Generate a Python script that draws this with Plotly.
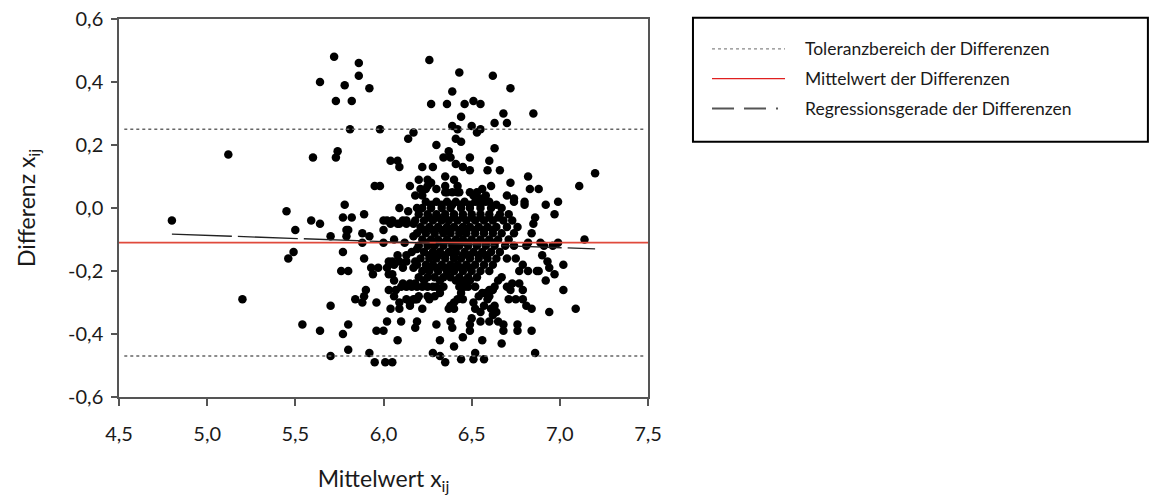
import plotly.graph_objects as go

# Bland-Altman style data: mean of paired measurements vs. their difference
points = [
    # sparse upper area
    (5.12, 0.17), (5.60, 0.16), (5.64, 0.40), (5.72, 0.48), (5.73, 0.34), (5.74, 0.18),
    (5.73, 0.16), (5.78, 0.39), (5.78, 0.01), (5.82, 0.34), (5.81, 0.25), (5.86, 0.46),
    (5.86, 0.42), (5.92, 0.38), (5.98, 0.25), (5.95, 0.07), (5.98, 0.07), (6.04, 0.15),
    (6.08, 0.15), (6.09, 0.13), (6.14, 0.22), (6.17, 0.24), (6.20, 0.09), (6.15, 0.07),
    (6.18, 0.04), (6.26, 0.47), (6.43, 0.43), (6.62, 0.42), (6.72, 0.38), (6.39, 0.37),
    (6.27, 0.33), (6.36, 0.33), (6.46, 0.33), (6.51, 0.34), (6.55, 0.33), (6.44, 0.29),
    (6.68, 0.30), (6.85, 0.30), (6.63, 0.27), (6.70, 0.27), (6.39, 0.26), (6.42, 0.25),
    (6.50, 0.26), (6.53, 0.24), (6.55, 0.25), (6.41, 0.22), (6.44, 0.21), (6.30, 0.20),
    (6.63, 0.19), (6.37, 0.18), (6.34, 0.16), (6.38, 0.16), (6.49, 0.16), (6.60, 0.15),
    (6.41, 0.14), (6.22, 0.13), (6.28, 0.13), (6.45, 0.13), (6.59, 0.12), (6.49, 0.12),
    (6.66, 0.12), (6.35, 0.10), (6.40, 0.09), (6.25, 0.09), (6.82, 0.10), (6.72, 0.08),
    (6.25, 0.07), (6.35, 0.07), (6.42, 0.07), (7.11, 0.07), (6.83, 0.06), (6.88, 0.06),
    (6.22, 0.04), (6.49, 0.05), (6.56, 0.06), (6.61, 0.07), (6.35, 0.05), (6.39, 0.05),
    (6.43, 0.05), (6.70, 0.04), (6.74, 0.02), (6.80, 0.02), (6.80, 0.01), (6.92, 0.01),
    (6.99, 0.02), (7.20, 0.11), (6.21, 0.06), (6.36, 0.05), (6.42, 0.05), (6.64, 0.01),
    (6.51, 0.04), (6.53, 0.05), (6.55, 0.03), (6.58, 0.04), (6.60, 0.02), (6.27, 0.08),
    (6.30, 0.06), (6.24, 0.06), (6.74, 0.03), (6.09, 0.00), (6.14, -0.01), (6.19, 0.00),
    # sparse left / lower-left area
    (4.80, -0.04), (5.20, -0.29), (5.45, -0.01), (5.50, -0.07), (5.59, -0.04), (5.64, -0.05),
    (5.70, -0.09), (5.49, -0.14), (5.46, -0.16), (5.54, -0.37), (5.64, -0.39), (5.70, -0.31),
    (5.70, -0.47), (5.77, -0.40), (5.80, -0.37), (5.80, -0.45), (5.77, -0.14), (5.76, -0.20),
    (5.80, -0.20), (5.77, -0.03), (5.82, -0.03), (5.79, -0.07), (5.80, -0.07), (5.79, -0.09),
    (5.89, -0.02), (5.88, -0.08), (5.92, -0.09), (5.88, -0.11), (5.89, -0.16), (5.93, -0.19),
    (5.94, -0.21), (5.90, -0.26), (5.89, -0.28), (5.88, -0.30), (5.84, -0.29), (5.96, -0.30),
    (5.92, -0.46), (5.95, -0.49), (5.96, -0.39), (6.00, -0.39), (6.01, -0.49), (6.05, -0.49),
    (6.00, -0.04), (6.02, -0.04), (6.05, -0.04), (6.00, -0.07), (6.00, -0.11), (6.02, -0.19),
    (6.06, -0.18), (6.03, -0.26), (6.02, -0.36), (6.04, -0.32), (6.08, -0.42), (6.06, -0.28),
    (5.97, -0.19), (6.03, -0.17), (6.03, -0.21), (6.05, -0.21), (6.06, -0.23), (6.07, -0.26),
    (6.09, -0.32), (6.09, -0.30), (6.10, -0.36), (6.08, -0.05), (6.11, -0.04), (6.13, -0.04),
    (6.18, -0.04), (6.04, -0.05), (6.09, -0.05), (6.13, -0.05), (6.17, -0.05), (6.06, -0.10),
    (6.12, -0.11), (6.17, -0.09), (6.08, -0.15), (6.13, -0.15), (6.16, -0.14), (6.19, -0.13),
    (6.05, -0.17), (6.09, -0.17), (6.13, -0.17), (6.18, -0.17), (6.11, -0.19), (6.17, -0.19),
    (6.11, -0.24), (6.15, -0.24), (6.18, -0.24), (6.13, -0.29), (6.18, -0.29), (6.20, -0.28),
    (6.15, -0.31), (6.18, -0.38), (6.19, -0.36),
    # sparse right / lower-right area
    (7.14, -0.10), (7.02, -0.18), (7.02, -0.26), (7.09, -0.32), (6.94, -0.33), (6.92, -0.23),
    (6.97, -0.21), (6.94, -0.19), (6.93, -0.17), (6.90, -0.15), (6.88, -0.20), (6.84, -0.32),
    (6.84, -0.39), (6.86, -0.46), (6.97, -0.02), (6.99, -0.11), (6.96, -0.12), (6.89, -0.11),
    (6.91, -0.12), (6.82, -0.11), (6.81, -0.12), (6.85, -0.05), (6.84, -0.08), (6.86, -0.03),
    (6.82, -0.20), (6.87, -0.20), (6.79, -0.18), (6.75, -0.16), (6.77, -0.20), (6.79, -0.26),
    (6.77, -0.24), (6.73, -0.24), (6.72, -0.26), (6.79, -0.29), (6.75, -0.29), (6.71, -0.29),
    (6.70, -0.25), (6.81, -0.31), (6.76, -0.37), (6.76, -0.39), (6.68, -0.37), (6.68, -0.39),
    (6.67, -0.43), (6.28, -0.46), (6.32, -0.47), (6.35, -0.49), (6.44, -0.48), (6.51, -0.48),
    (6.52, -0.46), (6.57, -0.48), (6.40, -0.44), (6.32, -0.42), (6.45, -0.41), (6.56, -0.42),
    (6.30, -0.37), (6.39, -0.38), (6.38, -0.36), (6.49, -0.37), (6.49, -0.39), (6.22, -0.32),
    (6.17, -0.29), (6.19, -0.29), (6.25, -0.28), (6.26, -0.29), (6.15, -0.30), (6.38, -0.31),
    (6.37, -0.32), (6.40, -0.30), (6.40, -0.32), (6.42, -0.29), (6.45, -0.29), (6.51, -0.30),
    (6.52, -0.32), (6.50, -0.35), (6.55, -0.33), (6.57, -0.31), (6.61, -0.32), (6.63, -0.31),
    (6.64, -0.33), (6.62, -0.34), (6.60, -0.36), (6.65, -0.36), (6.55, -0.36), (6.59, -0.29),
    (6.56, -0.27), (6.58, -0.27), (6.60, -0.26), (6.62, -0.26), (6.63, -0.25), (6.65, -0.23),
    (6.67, -0.22), (6.60, -0.28), (6.54, -0.28), (6.52, -0.25), (6.49, -0.23), (6.46, -0.25),
    (6.44, -0.27), (6.44, -0.24), (6.29, -0.28), (6.32, -0.27), (6.34, -0.25),
    (6.10, -0.25), (6.13, -0.25), (6.16, -0.25), (6.19, -0.25), (6.22, -0.25), (6.25, -0.25),
    (6.28, -0.25), (6.30, -0.25), (6.43, -0.25), (6.48, -0.25),
    # dense central cluster
    (6.24, 0.02), (6.30, 0.02), (6.36, 0.02), (6.41, 0.02), (6.46, 0.02), (6.52, 0.02), (6.58, 0.02),
    (6.27, 0.01), (6.33, 0.01), (6.39, 0.01), (6.44, 0.01), (6.49, 0.01), (6.55, 0.01),
    (6.22, 0.00), (6.27, 0.00), (6.33, 0.00), (6.38, 0.00), (6.44, 0.00), (6.49, 0.00), (6.55, 0.00),
    (6.61, 0.00), (6.67, 0.00),
    (6.20, -0.02), (6.25, -0.02), (6.30, -0.02), (6.35, -0.02), (6.40, -0.02), (6.45, -0.02),
    (6.50, -0.02), (6.55, -0.02), (6.60, -0.02), (6.66, -0.02), (6.71, -0.02),
    (6.26, -0.03), (6.31, -0.03), (6.35, -0.03), (6.40, -0.03), (6.45, -0.03), (6.50, -0.03),
    (6.55, -0.03), (6.60, -0.03), (6.65, -0.03),
    (6.23, -0.04), (6.28, -0.04), (6.33, -0.04), (6.37, -0.04), (6.42, -0.04), (6.47, -0.04),
    (6.52, -0.04), (6.57, -0.04), (6.62, -0.04), (6.68, -0.04), (6.73, -0.04),
    (6.21, -0.06), (6.26, -0.06), (6.31, -0.06), (6.36, -0.06), (6.40, -0.06), (6.45, -0.06),
    (6.49, -0.06), (6.54, -0.06), (6.59, -0.06), (6.64, -0.06), (6.70, -0.06), (6.76, -0.06),
    (6.23, -0.07), (6.28, -0.07), (6.33, -0.07), (6.38, -0.07), (6.43, -0.07), (6.47, -0.07),
    (6.52, -0.07), (6.57, -0.07), (6.62, -0.07),
    (6.19, -0.08), (6.24, -0.08), (6.29, -0.08), (6.34, -0.08), (6.38, -0.08), (6.43, -0.08),
    (6.47, -0.08), (6.52, -0.08), (6.57, -0.08), (6.62, -0.08), (6.67, -0.08), (6.74, -0.08),
    (6.22, -0.10), (6.27, -0.10), (6.31, -0.10), (6.36, -0.10), (6.41, -0.10), (6.45, -0.10),
    (6.50, -0.10), (6.55, -0.10), (6.60, -0.10), (6.65, -0.10), (6.71, -0.10),
    (6.25, -0.11), (6.30, -0.11), (6.34, -0.11), (6.39, -0.11), (6.44, -0.11), (6.48, -0.11),
    (6.53, -0.11), (6.58, -0.11), (6.63, -0.11),
    (6.20, -0.12), (6.25, -0.12), (6.29, -0.12), (6.34, -0.12), (6.39, -0.12), (6.43, -0.12),
    (6.48, -0.12), (6.53, -0.12), (6.58, -0.12), (6.63, -0.12), (6.69, -0.12), (6.74, -0.12),
    (6.23, -0.14), (6.28, -0.14), (6.32, -0.14), (6.37, -0.14), (6.41, -0.14), (6.46, -0.14),
    (6.51, -0.14), (6.56, -0.14), (6.61, -0.14), (6.66, -0.14),
    (6.26, -0.15), (6.31, -0.15), (6.35, -0.15), (6.40, -0.15), (6.45, -0.15), (6.49, -0.15),
    (6.54, -0.15), (6.58, -0.15),
    (6.21, -0.16), (6.26, -0.16), (6.30, -0.16), (6.35, -0.16), (6.40, -0.16), (6.44, -0.16),
    (6.49, -0.16), (6.54, -0.16), (6.59, -0.16), (6.64, -0.16), (6.70, -0.16),
    (6.19, -0.18), (6.24, -0.18), (6.28, -0.18), (6.33, -0.18), (6.38, -0.18), (6.42, -0.18),
    (6.47, -0.18), (6.52, -0.18), (6.57, -0.18), (6.62, -0.18),
    (6.25, -0.19), (6.30, -0.19), (6.35, -0.19), (6.40, -0.19), (6.44, -0.19), (6.49, -0.19),
    (6.22, -0.20), (6.26, -0.20), (6.31, -0.20), (6.36, -0.20), (6.40, -0.20), (6.45, -0.20),
    (6.50, -0.20), (6.55, -0.20), (6.60, -0.20),
    (6.20, -0.22), (6.25, -0.22), (6.29, -0.22), (6.34, -0.22), (6.38, -0.22), (6.43, -0.22),
    (6.48, -0.22), (6.53, -0.22),
    (6.23, -0.23), (6.32, -0.23), (6.41, -0.23), (6.46, -0.23),
]

mean_values = [p[0] for p in points]   # Mittelwert x_ij
diff_values = [p[1] for p in points]   # Differenz x_ij

MEAN_DIFF = -0.11
TOL_UPPER = 0.25
TOL_LOWER = -0.47
REG_INTERCEPT = 0.0106
REG_SLOPE = -0.0195

X_RANGE = [4.5, 7.5]
Y_RANGE = [-0.6, 0.6]
X_TICKS = [4.5, 5.0, 5.5, 6.0, 6.5, 7.0, 7.5]
Y_TICKS = [-0.6, -0.4, -0.2, 0.0, 0.2, 0.4, 0.6]


def de_label(v):
    # German decimal comma with a plain hyphen as minus sign
    return f"{v:.1f}".replace(".", ",")


LEGEND_LABELS = [
    "Toleranzbereich der Differenzen",
    "Mittelwert der Differenzen",
    "Regressionsgerade der Differenzen",
]

FONT = "Lato"
TEXT_COLOR = "#1a1a1a"
AXIS_COLOR = "#555555"
RED = "#e04a3c"

fig = go.Figure()

fig.add_trace(go.Scatter(
    x=mean_values, y=diff_values, mode="markers",
    marker=dict(color="black", size=8.5, line=dict(width=0)),
    showlegend=False, hoverinfo="x+y",
))

# tolerance band (dotted)
tol_x = [X_RANGE[0] + 0.03, X_RANGE[1] - 0.01]
for tol in (TOL_UPPER, TOL_LOWER):
    fig.add_trace(go.Scatter(
        x=tol_x, y=[tol, tol], mode="lines",
        line=dict(color="#666666", width=1.4, dash="dot"),
        showlegend=False, hoverinfo="skip",
    ))

# mean difference (red)
fig.add_trace(go.Scatter(
    x=X_RANGE, y=[MEAN_DIFF, MEAN_DIFF], mode="lines",
    line=dict(color=RED, width=1.8), showlegend=False, hoverinfo="skip",
))

# regression line across the range of means
reg_x = [min(mean_values), max(mean_values)]
reg_y = [REG_INTERCEPT + REG_SLOPE * v for v in reg_x]
fig.add_trace(go.Scatter(
    x=reg_x, y=reg_y, mode="lines",
    line=dict(color="#222222", width=1.3, dash="60px,6px"),
    showlegend=False, hoverinfo="skip",
))

# hand-drawn legend box to the right of the plot
shapes = [dict(type="rect", xref="paper", yref="paper", x0=1.085, x1=1.945, y0=0.675, y1=1.003,
               line=dict(color="black", width=2), fillcolor="white", layer="below")]
row_y = [0.921, 0.842, 0.763]
sample_styles = [
    dict(color="#888888", width=1.2, dash="dot"),
    dict(color="#e02020", width=1.2),
    dict(color="#555555", width=2, dash="22px,10px,22px,10px,2px,40px"),
]
annotations = []
for label, ry, st in zip(LEGEND_LABELS, row_y, sample_styles):
    shapes.append(dict(type="line", xref="paper", yref="paper", x0=1.121, x1=1.259, y0=ry, y1=ry,
                       line=st))
    annotations.append(dict(text=label, xref="paper", yref="paper", x=1.293, y=ry,
                            xanchor="left", yanchor="middle", showarrow=False,
                            font=dict(family=FONT, size=17.5, color=TEXT_COLOR)))

fig.update_layout(
    width=1154, height=498,
    margin=dict(l=119, r=506, t=19, b=101, autoexpand=False),
    paper_bgcolor="white", plot_bgcolor="white",
    font=dict(family=FONT, size=20, color=TEXT_COLOR),
    shapes=shapes, annotations=annotations,
    showlegend=False,
)
fig.update_xaxes(
    range=X_RANGE, tickvals=X_TICKS, ticktext=[de_label(v) for v in X_TICKS],
    showgrid=False, zeroline=False, automargin=False,
    showline=True, linecolor=AXIS_COLOR, linewidth=1.5, mirror=True,
    ticks="outside", ticklen=7, tickcolor=AXIS_COLOR, tickwidth=1.5,
    ticklabelstandoff=11,
    title=dict(text="Mittelwert x<sub>ij</sub>", font=dict(size=23), standoff=27),
)
fig.update_yaxes(
    range=Y_RANGE, tickvals=Y_TICKS, ticktext=[de_label(v) for v in Y_TICKS],
    showgrid=False, zeroline=False, automargin=False,
    showline=True, linecolor=AXIS_COLOR, linewidth=1.5, mirror=True,
    ticks="outside", ticklen=6, tickcolor=AXIS_COLOR, tickwidth=1.5,
    ticklabelstandoff=4,
    title=dict(text="Differenz x<sub>ij</sub>", font=dict(size=23), standoff=26),
)

fig.write_html("out.html")
